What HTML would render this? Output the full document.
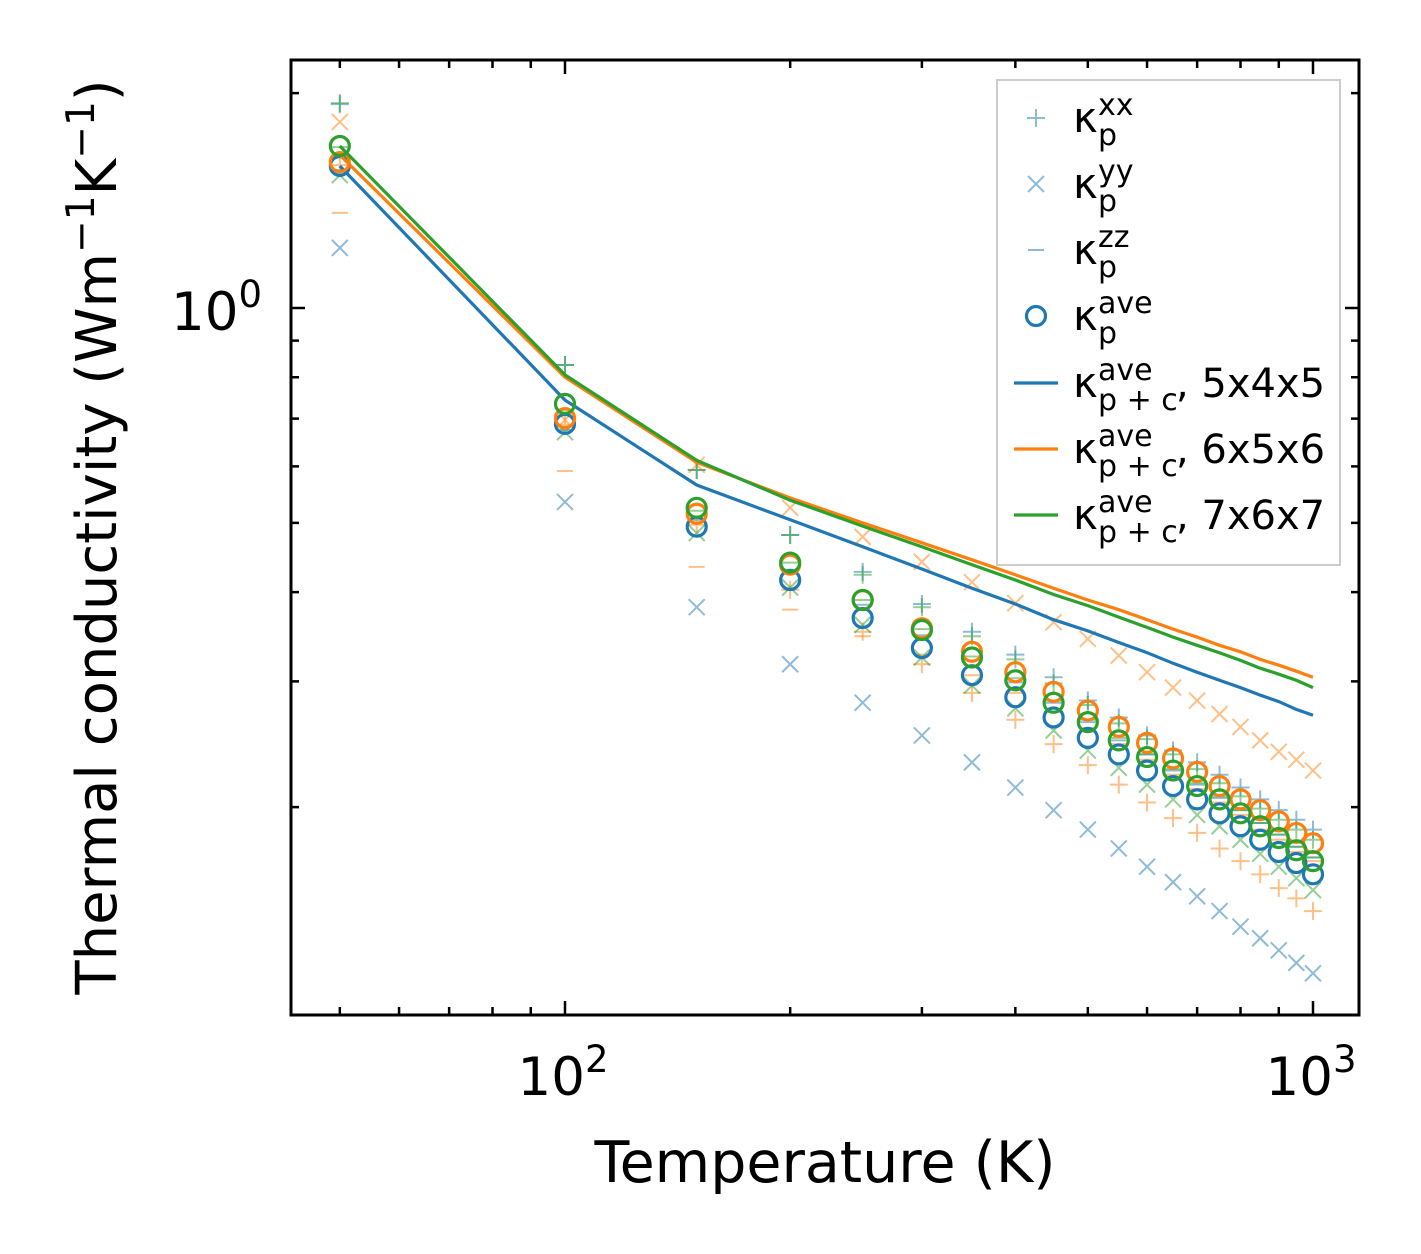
<!DOCTYPE html>
<html><head><meta charset="utf-8"><style>
body{margin:0;background:#fff;}
svg{display:block;font-family:"DejaVu Sans","Liberation Sans",sans-serif;}
</style></head><body>
<svg id="chart" width="1421" height="1254" viewBox="0 0 1421 1254">
<g id="marks"></g>
<rect x="291" y="60" width="1068" height="955" fill="none" stroke="#000" stroke-width="3"/>
<g id="ticks"></g>
<text x="563" y="1095" font-size="53" text-anchor="middle">10<tspan dy="-23" font-size="37">2</tspan></text>
<text x="1311" y="1095" font-size="53" text-anchor="middle">10<tspan dy="-23" font-size="37">3</tspan></text>
<text x="262" y="330" font-size="53" text-anchor="end">10<tspan dy="-23" font-size="37">0</tspan></text>
<text x="825" y="1182" font-size="57" text-anchor="middle">Temperature (K)</text>
<text transform="translate(116,537) rotate(-90)" font-size="56" text-anchor="middle">Thermal conductivity (Wm<tspan dy="-22" font-size="39">−1</tspan><tspan dy="22">K</tspan><tspan dy="-22" font-size="39">−1</tspan><tspan dy="22">)</tspan></text>
<g>
<rect x="997" y="80" width="343" height="485" fill="#fff" fill-opacity="0.8" stroke="#ccc" stroke-width="2"/>
<g id="legend-items"></g>
</g>
</svg>
<script>
const temps=[50,100,150,200,250,300,350,400,450,500,550,600,650,700,750,800,850,900,950,1000];
const blueXX=[1.93,0.832,0.593,0.481,0.427,0.385,0.352,0.327,0.304,0.282,0.267,0.252,0.240,0.231,0.222,0.213,0.205,0.198,0.192,0.186];
const blueYY=[1.214,0.535,0.381,0.317,0.280,0.252,0.231,0.213,0.198,0.186,0.175,0.165,0.157,0.150,0.143,0.136,0.131,0.126,0.121,0.117];
const blueZZ=[1.56,0.675,0.505,0.430,0.384,0.348,0.321,0.299,0.280,0.263,0.248,0.237,0.225,0.215,0.206,0.198,0.190,0.183,0.176,0.170];
const blueAve=[1.581,0.688,0.494,0.416,0.368,0.334,0.306,0.285,0.267,0.250,0.237,0.225,0.214,0.205,0.196,0.188,0.180,0.173,0.167,0.161];
const blueLine=[1.581,0.743,0.565,0.505,0.463,0.431,0.405,0.385,0.366,0.353,0.340,0.329,0.318,0.309,0.301,0.294,0.287,0.281,0.274,0.269];
const orangeXX=[1.585,0.686,0.497,0.403,0.352,0.317,0.289,0.265,0.245,0.229,0.215,0.203,0.193,0.184,0.175,0.168,0.161,0.154,0.149,0.143];
const orangeYY=[1.822,0.697,0.603,0.525,0.478,0.441,0.413,0.386,0.363,0.344,0.326,0.309,0.294,0.282,0.270,0.259,0.248,0.239,0.233,0.225];
const orangeZZ=[1.359,0.591,0.434,0.378,0.347,0.327,0.306,0.289,0.272,0.258,0.245,0.233,0.222,0.212,0.203,0.195,0.186,0.180,0.173,0.168];
const orangeAve=[1.601,0.701,0.515,0.437,0.390,0.356,0.330,0.309,0.290,0.273,0.259,0.246,0.234,0.224,0.214,0.205,0.198,0.191,0.184,0.178];
const orangeLine=[1.638,0.800,0.608,0.542,0.500,0.469,0.444,0.423,0.405,0.390,0.378,0.366,0.355,0.346,0.337,0.330,0.322,0.316,0.310,0.304];
const greenXX=[1.936,0.832,0.593,0.481,0.423,0.381,0.347,0.322,0.298,0.278,0.262,0.249,0.237,0.226,0.216,0.207,0.199,0.192,0.186,0.180];
const greenYY=[1.535,0.670,0.484,0.406,0.360,0.324,0.296,0.275,0.256,0.240,0.227,0.215,0.205,0.195,0.188,0.180,0.172,0.165,0.159,0.153];
const greenZZ=[1.68,0.72,0.52,0.44,0.39,0.355,0.325,0.303,0.282,0.265,0.25,0.237,0.226,0.216,0.207,0.198,0.19,0.183,0.176,0.17];
const greenAve=[1.686,0.734,0.525,0.440,0.390,0.354,0.324,0.301,0.280,0.263,0.248,0.235,0.225,0.214,0.205,0.196,0.188,0.181,0.174,0.168];
const greenLine=[1.686,0.806,0.612,0.538,0.495,0.463,0.437,0.416,0.397,0.383,0.369,0.357,0.346,0.337,0.329,0.321,0.313,0.307,0.301,0.294];
const xMajor=[100,1000];
const xMinor=[50,60,70,80,90,200,300,400,500,600,700,800,900];
const yMajor=[1];
const yMinor=[0.2,0.3,0.4,0.5,0.6,0.7,0.8,0.9,2];

const NS='http://www.w3.org/2000/svg';
function xS(t){return 565+748*(Math.log10(t)-2);}
function yS(v){return 308-714*Math.log10(v);}
function mk(tag,attrs,parent){const e=document.createElementNS(NS,tag);for(const k in attrs)e.setAttribute(k,attrs[k]);parent.appendChild(e);return e;}
const marks=document.getElementById('marks');
const C={blue:'#1f77b4',orange:'#ff7f0e',green:'#2ca02c'};
function drawMarker(kind,x,y,col,g,alpha){
  let e;
  if(kind==='plus'){e=mk('path',{d:`M${x-9},${y}H${x+9}M${x},${y-9}V${y+9}`,stroke:col,'stroke-width':2,'stroke-opacity':alpha,fill:'none'},g);}
  else if(kind==='x'){e=mk('path',{d:`M${x-8},${y-8}L${x+8},${y+8}M${x-8},${y+8}L${x+8},${y-8}`,stroke:col,'stroke-width':2,'stroke-opacity':alpha,fill:'none'},g);}
  else if(kind==='dash'){e=mk('path',{d:`M${x-8},${y}H${x+8}`,stroke:col,'stroke-width':2,'stroke-opacity':alpha,fill:'none'},g);}
  else {e=mk('circle',{cx:x,cy:y,r:9.5,stroke:col,'stroke-width':3.2,fill:'none'},g);}
  return e;
}
function drawSet(arr,kind,col,name,alpha){
  const g=mk('g',{},marks);
  
  
  arr.forEach((v,i)=>{
    const e=drawMarker(kind,xS(temps[i]),yS(v),col,g,alpha);
    
    
  });
}
function drawLine(arr,col,name){
  const p=mk('polyline',{points:arr.map((v,i)=>xS(temps[i]).toFixed(1)+','+yS(v).toFixed(1)).join(' '),stroke:col,'stroke-width':3.2,fill:'none'},marks);
  
  
}
[['blue',blueXX,blueYY,blueZZ],['orange',orangeXX,orangeYY,orangeZZ],['green',greenXX,greenYY,greenZZ]].forEach(s=>{
  const col=C[s[0]];
  drawSet(s[1],'plus',col,s[0]+'-kappa-xx',0.5);
  drawSet(s[2],'x',col,s[0]+'-kappa-yy',0.5);
  drawSet(s[3],'dash',col,s[0]+'-kappa-zz',0.5);
});
[['blue',blueAve,blueLine],['orange',orangeAve,orangeLine],['green',greenAve,greenLine]].forEach(s=>{
  drawSet(s[1],'circle',C[s[0]],s[0]+'-kappa-ave',1);
  drawLine(s[2],C[s[0]],s[0]+'-kappa-pc-line');
});
const tg=document.getElementById('ticks');
function tick(d,name){const e=mk('path',{d:d,stroke:'#000','stroke-width':2.5},tg);}
xMajor.forEach(t=>{const x=xS(t);tick(`M${x},1015V1001M${x},60V74`,'x-major-tick');});
xMinor.forEach(t=>{const x=xS(t);tick(`M${x},1015V1007M${x},60V68`,'x-minor-tick');});
yMajor.forEach(v=>{const y=yS(v);tick(`M291,${y}H305M1359,${y}H1345`,'y-major-tick');});
yMinor.forEach(v=>{const y=yS(v);tick(`M291,${y}H299M1359,${y}H1351`,'y-minor-tick');});
const lg=document.getElementById('legend-items');
const items=[
 ['plus',C.blue,0.5,'xx','p',''],['x',C.blue,0.5,'yy','p',''],['dash',C.blue,0.5,'zz','p',''],
 ['circle',C.blue,1,'ave','p',''],['line',C.blue,1,'ave','p + c',', 5x4x5'],['line',C.orange,1,'ave','p + c',', 6x5x6'],['line',C.green,1,'ave','p + c',', 7x6x7']];
const ys=[118,184,250,316,383,449,515];
items.forEach((it,i)=>{
  const y=ys[i];
  const g=mk('g',{},lg);
  
  
  if(it[0]==='line'){mk('path',{d:`M1014,${y}H1058`,stroke:it[1],'stroke-width':3.2},g);}
  else drawMarker(it[0],1036,y,it[1],g,it[2]);
  const k=mk('text',{x:1073,y:y+14,'font-size':42},g); k.textContent='κ';
  const sp=mk('text',{x:1098,y:y-3,'font-size':30},g); sp.textContent=it[3];
  const sb=mk('text',{x:1098,y:y+27,'font-size':30},g); sb.textContent=it[4];
  if(it[5]){const sf=mk('text',{x:1176,y:y+14,'font-size':40},g); sf.textContent=it[5];}
});
</script>
</body></html>
